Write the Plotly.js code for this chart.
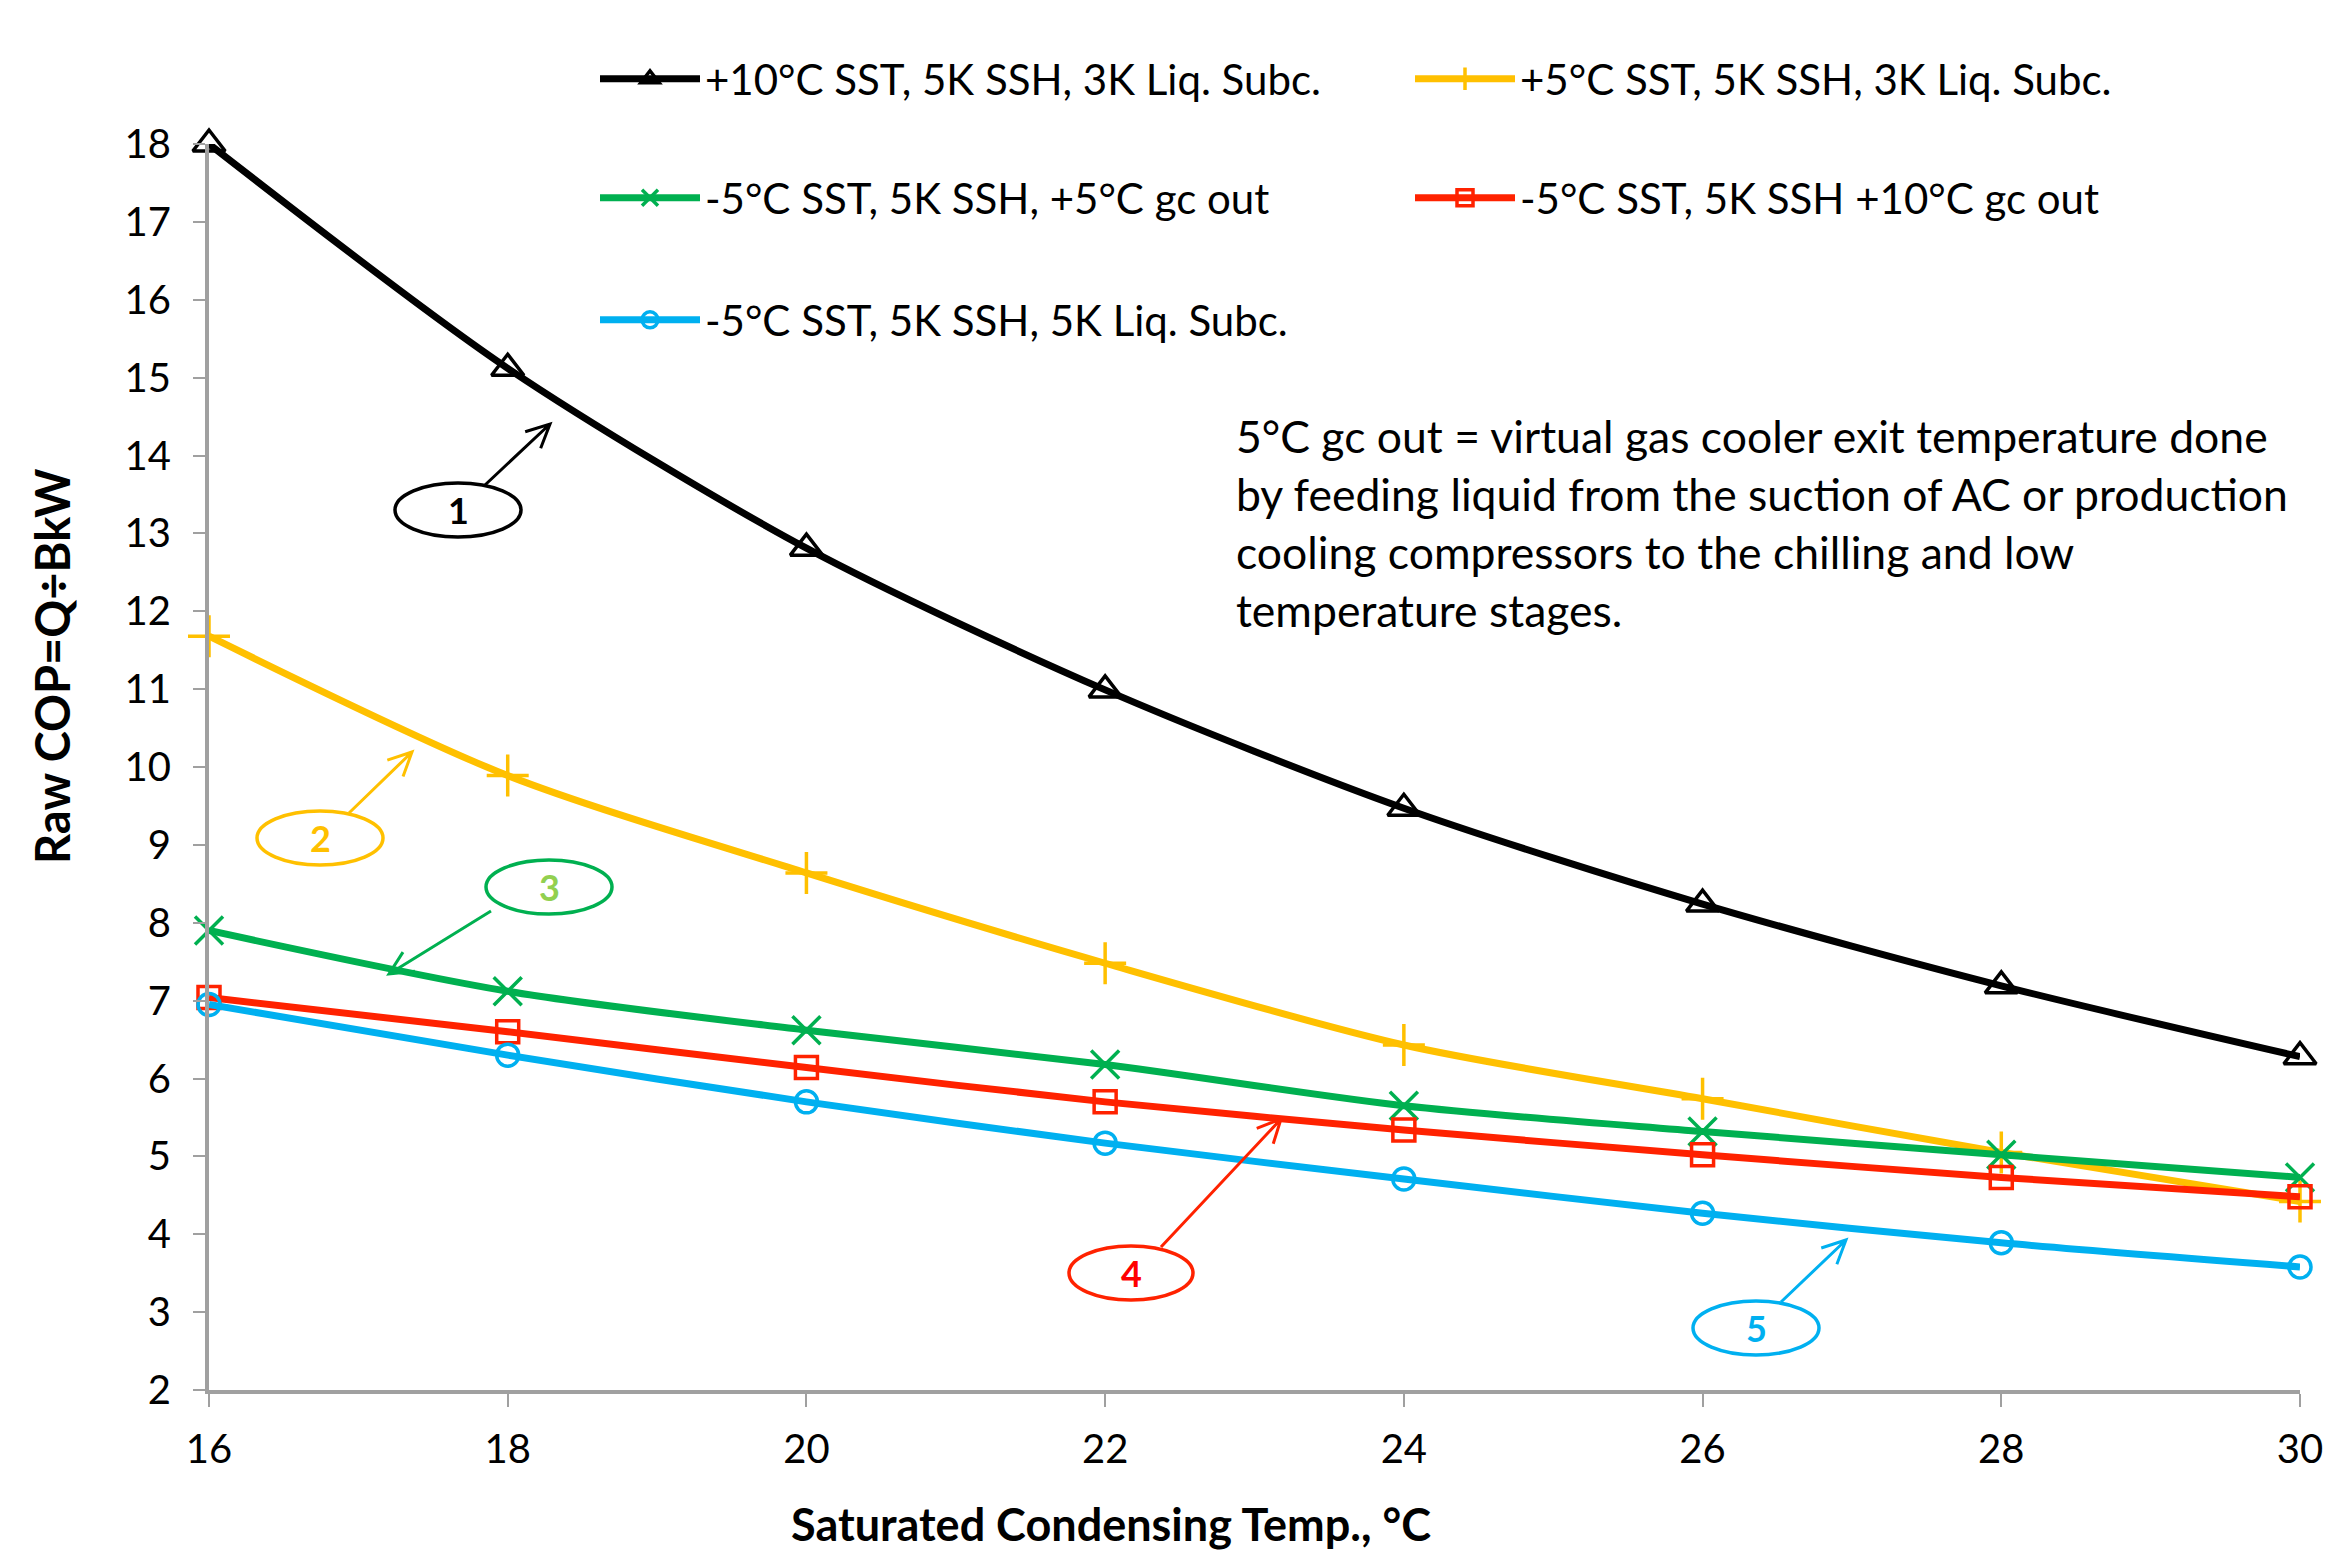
<!DOCTYPE html>
<html>
<head>
<meta charset="utf-8">
<script src="https://cdn.plot.ly/plotly-3.0.1.min.js"></script>
<style>html,body{margin:0;padding:0;background:#fff;}#chart{width:2331px;height:1551px;}</style>
</head>
<body>
<div id="chart"></div>
<script>
// ---- data ----
const condTemp = [16, 18, 20, 22, 24, 26, 28, 30];
const seriesNames = [
  "+10°C SST, 5K SSH, 3K Liq. Subc.",
  "+5°C SST, 5K SSH, 3K Liq. Subc.",
  "-5°C SST, 5K SSH, +5°C gc out",
  "-5°C SST, 5K SSH +10°C gc out",
  "-5°C SST, 5K SSH, 5K Liq. Subc."
];
const copSST10 = [18.0, 15.12, 12.81, 10.99, 9.47, 8.24, 7.19, 6.28];
const copSST5 = [11.68, 9.89, 8.64, 7.48, 6.43, 5.74, 5.05, 4.42];
const copGc5 = [7.9, 7.12, 6.62, 6.18, 5.65, 5.32, 5.02, 4.73];
const copGc10 = [7.04, 6.6, 6.14, 5.70, 5.34, 5.02, 4.73, 4.48];
const copSub5 = [6.95, 6.30, 5.70, 5.17, 4.71, 4.27, 3.89, 3.58];
const xTicks = [16, 18, 20, 22, 24, 26, 28, 30];
const yTicks = [2,3,4,5,6,7,8,9,10,11,12,13,14,15,16,17,18];
const noteLines = [
  "5°C gc out = virtual gas cooler exit temperature done",
  "by feeding liquid from the suction of AC or production",
  "cooling compressors to the chilling and low",
  "temperature stages."
];
const calloutLabels = ["1", "2", "3", "4", "5"];

// ---- layout helpers (pixel -> paper) ----
const W = 2331, H = 1551;
const L = 209, R = 2300, T = 144, B = 1390;
const px = x => (x - L) / (R - L);
const py = y => (B - y) / (B - T);
const FONT = "Lato, 'Open Sans', sans-serif";

const colors = ["#000000", "#FFC000", "#00B050", "#FF2200", "#00B0F0"];
const symbols = ["triangle-up-open", "cross-thin-open", "x-thin-open", "square-open", "circle-open"];
const msizes = [28, 30, 28, 22, 22];
const values = [copSST10, copSST5, copGc5, copGc10, copSub5];
const legendIds = ["legend", "legend2", "legend3", "legend4", "legend5"];

const traces = values.map((v, i) => ({
  x: condTemp, y: v, type: "scatter", mode: "lines+markers",
  name: seriesNames[i],
  line: {color: colors[i], width: 7, shape: "spline", smoothing: 0.8},
  marker: {symbol: symbols[i], size: msizes[i], color: colors[i], line: {color: colors[i], width: 3.5}},
  cliponaxis: false,
  legend: legendIds[i]
}));

// legend positions (pixel)
const legPos = [[595, 79], [1410, 79], [595, 198], [1410, 198], [595, 320]];
const legFont = {family: FONT, size: 42, color: "#000"};
const legends = {};
legPos.forEach((p, i) => {
  legends[legendIds[i]] = {
    x: px(p[0]), y: py(p[1]), xanchor: "left", yanchor: "middle",
    xref: "paper", yref: "paper",
    font: legFont, bgcolor: "rgba(0,0,0,0)", borderwidth: 0, itemwidth: 100
  };
});

// callouts
const callouts = [
  {cx: 458, cy: 510, rx: 63, ry: 27, color: "#000000", text: "#000000", from: [485, 485], to: [550, 424]},
  {cx: 320, cy: 838, rx: 63, ry: 27, color: "#FFC000", text: "#FFC000", from: [349, 813], to: [412, 752]},
  {cx: 549, cy: 887, rx: 63, ry: 27, color: "#00B050", text: "#92D050", from: [491, 911], to: [389, 974]},
  {cx: 1131, cy: 1273, rx: 62, ry: 27, color: "#FF2200", text: "#FF0000", from: [1161, 1247], to: [1281, 1119]},
  {cx: 1756, cy: 1328, rx: 63, ry: 27, color: "#00B0F0", text: "#00B0F0", from: [1781, 1302], to: [1846, 1240]}
];
const shapes = [];
const annotations = [];
callouts.forEach((c, i) => {
  shapes.push({type: "circle", xref: "paper", yref: "paper",
    x0: px(c.cx - c.rx), x1: px(c.cx + c.rx), y0: py(c.cy + c.ry), y1: py(c.cy - c.ry),
    line: {color: c.color, width: 3.5}});
  const [x1, y1] = c.from, [x2, y2] = c.to;
  const ang = Math.atan2(y2 - y1, x2 - x1);
  const hl = 26, ha = 0.45;
  const hx1 = x2 - hl * Math.cos(ang - ha), hy1 = y2 - hl * Math.sin(ang - ha);
  const hx2 = x2 - hl * Math.cos(ang + ha), hy2 = y2 - hl * Math.sin(ang + ha);
  const path = `M${px(x1)},${py(y1)} L${px(x2)},${py(y2)} M${px(hx1)},${py(hy1)} L${px(x2)},${py(y2)} L${px(hx2)},${py(hy2)}`;
  shapes.push({type: "path", xref: "paper", yref: "paper", path: path, line: {color: c.color, width: 3}});
  annotations.push({xref: "paper", yref: "paper", x: px(c.cx), y: py(c.cy), text: "<b>" + calloutLabels[i] + "</b>",
    showarrow: false, xanchor: "center", yanchor: "middle", font: {family: FONT, size: 36, color: c.text}});
});

// note text
annotations.push({xref: "paper", yref: "paper", x: px(1234), y: py(407), xanchor: "left", yanchor: "top",
  align: "left", showarrow: false, text: noteLines.join("<br>"),
  font: {family: FONT, size: 44.5, color: "#000"}});
// axis titles as positioned annotations
annotations.push({xref: "paper", yref: "paper", x: px(1111), y: py(1524), xanchor: "center", yanchor: "middle",
  showarrow: false, text: "<b>Saturated Condensing Temp., °C</b>", font: {family: FONT, size: 45, color: "#000"}});
annotations.push({xref: "paper", yref: "paper", x: px(52), y: py(666), xanchor: "center", yanchor: "middle",
  textangle: -90, showarrow: false, text: "<b>Raw COP=Q÷BkW</b>", font: {family: FONT, size: 47, color: "#000"}});

const layout = Object.assign({
  width: W, height: H,
  margin: {l: L, r: W - R, t: T, b: H - B, pad: 0},
  paper_bgcolor: "#fff", plot_bgcolor: "#fff",
  showlegend: true,
  xaxis: {range: [16, 30], tickvals: xTicks, ticktext: xTicks.map(String), showgrid: false, zeroline: false,
    showline: true, linecolor: "#A0A0A0", linewidth: 4, ticks: "outside", ticklen: 13, tickwidth: 2, tickcolor: "#A0A0A0",
    tickfont: {family: FONT, size: 40, color: "#000"}, ticklabelstandoff: 8},
  yaxis: {range: [2, 18], tickvals: yTicks, ticktext: yTicks.map(String), showgrid: false, zeroline: false,
    showline: true, linecolor: "#A0A0A0", linewidth: 4, ticks: "outside", ticklen: 12, tickwidth: 2, tickcolor: "#A0A0A0",
    tickfont: {family: FONT, size: 40, color: "#000"}, ticklabelstandoff: 14},
  shapes: shapes,
  annotations: annotations
}, legends);

Plotly.newPlot("chart", traces, layout, {displayModeBar: false, staticPlot: true});
</script>
</body>
</html>
